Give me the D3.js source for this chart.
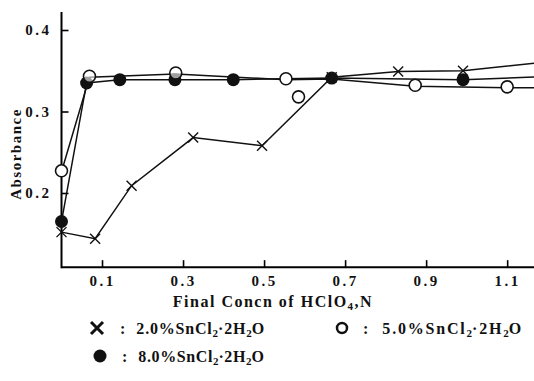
<!DOCTYPE html>
<html>
<head>
<meta charset="utf-8">
<script src="https://cdn.jsdelivr.net/npm/d3@7"></script>
<style>
  body { margin: 0; background: #fff; }
  svg text { font-family: "Liberation Serif", "DejaVu Serif", serif; font-weight: bold; fill: #111; }
</style>
</head>
<body>
<svg id="chart" width="534" height="381"></svg>
<script>
// values (x = final HClO4 concn, N ; y = absorbance)
var sn2_x = [0, 0.083, 0.173, 0.325, 0.495, 0.667, 0.831, 0.991, 1.2];
var sn2_y = [0.152, 0.144, 0.209, 0.268, 0.258, 0.342, 0.349, 0.350, 0.361];
var sn5_x = [0, 0.069, 0.282, 0.554, 0.667, 0.873, 1.10, 1.2];
var sn5_y = [0.226, 0.342, 0.346, 0.339, 0.340, 0.331, 0.329, 0.329];
var sn5_marked = [true, true, true, true, false, true, true, false];
var sn5_loose_x = [0.585];
var sn5_loose_y = [0.318];
var sn8_x = [0, 0.062, 0.144, 0.28, 0.424, 0.667, 0.991, 1.2];
var sn8_y = [0.165, 0.335, 0.339, 0.339, 0.339, 0.341, 0.339, 0.343];
var xTicks = [0.1, 0.3, 0.5, 0.7, 0.9, 1.1];
var yTicks = [0.2, 0.3, 0.4];

var svg = d3.select("#chart");
var x = d3.scaleLinear().domain([0, 1.165]).range([61.5, 533.5]);
var y = d3.scaleLinear().domain([0.1, 0.4]).range([274.5, 30]);
var yBottom = 0.109, yTop = 0.422;

svg.append("defs").append("clipPath").attr("id", "plot")
  .append("rect").attr("x", x(0) - 8).attr("y", 0).attr("width", 534 - x(0) + 8).attr("height", y(yBottom));

// axes
var xAxis = svg.append("g").attr("transform", "translate(0," + y(yBottom) + ")")
  .call(d3.axisBottom(x).tickValues(xTicks).tickSizeInner(-7).tickSizeOuter(0).tickFormat(d3.format(".1f")));
xAxis.select(".domain").attr("stroke-width", 2).attr("d", "M" + x(0) + ",0H534");
xAxis.selectAll(".tick line").attr("stroke-width", 1.6);
xAxis.selectAll(".tick text").attr("y", 8).attr("dy", "0.75em").style("font-size", "15px")
  .style("letter-spacing", "2.5px").attr("fill", "#111");

var yAxis = svg.append("g").attr("transform", "translate(" + x(0) + ",0)")
  .call(d3.axisLeft(y).tickValues(yTicks).tickSizeInner(-7).tickSizeOuter(0).tickFormat(d3.format(".1f")));
yAxis.select(".domain").attr("stroke-width", 2).attr("d", "M0," + y(yTop) + "V" + (y(yBottom) + 1));
yAxis.selectAll(".tick line").attr("stroke-width", 1.6);
yAxis.selectAll(".tick text").attr("x", -10).style("font-size", "15px")
  .style("letter-spacing", "2.5px").attr("fill", "#111");

svg.append("text").attr("transform", "translate(21," + 154 + ") rotate(-90)")
  .attr("text-anchor", "middle").style("font-size", "15px").style("letter-spacing", "1.5px").text("Absorbance");

var xl = svg.append("text").attr("x", 273).attr("y", 307).attr("text-anchor", "middle")
  .style("font-size", "16px").style("letter-spacing", "1.5px");
xl.append("tspan").text("Final Concn of HClO");
xl.append("tspan").attr("dy", 3).style("font-size", "11px").text("4");
xl.append("tspan").attr("dy", -3).text(",N");

// series lines
var line = d3.line().x(function (d) { return x(d[0]); }).y(function (d) { return y(d[1]); });
var plot = svg.append("g").attr("clip-path", "url(#plot)");
var s2 = d3.zip(sn2_x, sn2_y), s5 = d3.zip(sn5_x, sn5_y), s8 = d3.zip(sn8_x, sn8_y);
[s2, s5, s8].forEach(function (s) {
  plot.append("path").datum(s).attr("d", line).attr("fill", "none").attr("stroke", "#111").attr("stroke-width", 1.5);
});

function cross(g, cx, cy, r, w) {
  g.append("path").attr("d", "M" + (cx - r) + "," + (cy - r) + "L" + (cx + r) + "," + (cy + r) +
    "M" + (cx + r) + "," + (cy - r) + "L" + (cx - r) + "," + (cy + r))
    .attr("stroke", "#111").attr("stroke-width", w).attr("fill", "none");
}

var mk = plot.append("g");
s8.forEach(function (d) {
  mk.append("circle").attr("cx", x(d[0])).attr("cy", y(d[1])).attr("r", 6.5).attr("fill", "#111");
});
s5.forEach(function (d, i) {
  if (!sn5_marked[i]) return;
  mk.append("circle").attr("cx", x(d[0])).attr("cy", y(d[1]) - 1).attr("r", 6).attr("fill", "#fff")
    .attr("stroke", "#111").attr("stroke-width", 1.6).attr("fill-opacity", d[0] < 0.3 && d[0] > 0 ? 0.6 : 1);
});
d3.zip(sn5_loose_x, sn5_loose_y).forEach(function (d) {
  mk.append("circle").attr("cx", x(d[0])).attr("cy", y(d[1])).attr("r", 6).attr("fill", "#fff")
    .attr("stroke", "#111").attr("stroke-width", 1.6);
});
s2.forEach(function (d) { cross(mk, x(d[0]), y(d[1]), 5, 1.4); });

// legend
var lg = svg.append("g").style("font-size", "16px");
function formula(t, px, py, pct, gap, ls) {
  var tx = lg.append("text").attr("x", px).attr("y", py);
  tx.append("tspan").text(":");
  tx.append("tspan").attr("dx", gap).style("letter-spacing", ls + "px").text(pct + "SnCl");
  tx.append("tspan").attr("dy", 3).style("font-size", "11px").text("2");
  tx.append("tspan").attr("dy", -3).style("letter-spacing", ls + "px").text("·2H");
  tx.append("tspan").attr("dy", 3).style("font-size", "11px").text("2");
  tx.append("tspan").attr("dy", -3).text("O");
}
cross(lg, 97, 328, 6, 3);
formula(lg, 120, 334, "2.0%", 11, 0.8);
lg.append("circle").attr("cx", 342).attr("cy", 328).attr("r", 5).attr("fill", "#fff").attr("stroke", "#111").attr("stroke-width", 2.5);
formula(lg, 363, 334, "5.0%", 14, 1.8);
lg.append("circle").attr("cx", 100).attr("cy", 356).attr("r", 6.5).attr("fill", "#111");
formula(lg, 122, 362, "8.0%", 11, 0.6);
</script>
</body>
</html>
